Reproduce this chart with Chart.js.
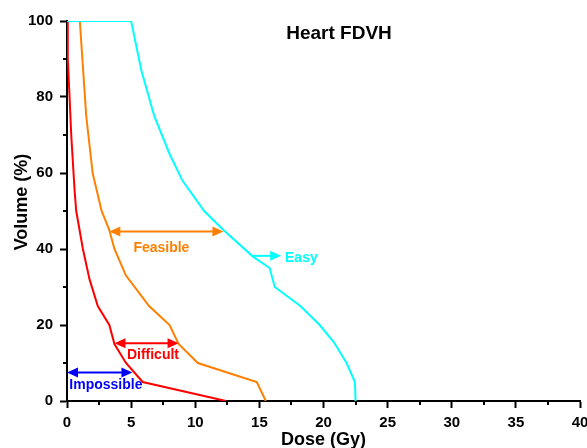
<!DOCTYPE html>
<html>
<head>
<meta charset="utf-8">
<script src="https://cdn.jsdelivr.net/npm/chart.js@4.4.1/dist/chart.umd.min.js"></script>
<style>
html,body{margin:0;padding:0;background:#fff;}
#wrap{width:587px;height:448px;position:relative;}
</style>
</head>
<body>
<div id="wrap"><canvas id="c" width="587" height="448"></canvas></div>
<script>
// ---- data ----
const easyDose = [0, 5.0, 5.8, 6.8, 8.0, 9.0, 10.7, 12.2, 14.5, 15.8, 16.2, 18.2, 19.7, 20.8, 21.8, 22.45, 22.5];
const easyVol  = [100, 100, 87, 75, 65, 58, 50, 45, 38, 35, 30, 25, 20, 15.5, 10, 5, 0];
const feasibleDose = [1.0, 1.5, 2.0, 2.7, 3.3, 3.7, 4.6, 6.4, 8.0, 8.7, 10.2, 14.8, 15.5];
const feasibleVol  = [100, 75, 60, 50, 45, 40, 33, 25, 20, 15, 10, 5, 0];
const difficultDose = [0, 0.06, 0.2, 0.33, 0.6, 0.72, 1.24, 1.76, 2.4, 3.3, 3.7, 4.6, 5.9, 12.4];
const difficultVol  = [100, 90, 80, 70, 55, 50, 40, 32, 25, 20, 15, 10, 5, 0];

const arrowNames = ['Feasible', 'Easy', 'Difficult', 'Impossible'];
const arrowVol   = [44.6, 38.2, 15.2, 7.5];
const arrowFrom  = [3.3, 14.5, 3.7, 0];
const arrowTo    = [12.2, 16.7, 8.7, 5.1];
const arrowBoth  = [true, false, true, true];
const labelDose  = [7.36, 17.0, 6.7, 3.03];
const labelVol   = [40.2, 37.5, 12.1, 4.2];

const xTicks = [0, 5, 10, 15, 20, 25, 30, 35, 40];
const yTicks = [0, 20, 40, 60, 80, 100];
const titleText = 'Heart FDVH';
const xTitle = 'Dose (Gy)';
const yTitle = 'Volume (%)';

// ---- styles ----
const COLORS = {Easy: '#00FFFF', Feasible: '#FF8000', Difficult: '#FF0000', Impossible: '#0000FF'};
const FONT = '"Liberation Sans", Arial, sans-serif';

function pts(xs, ys) { return xs.map((x, i) => ({x: x, y: ys[i]})); }

const annotationPlugin = {
  id: 'annot',
  afterDatasetsDraw(chart) {
    const ctx = chart.ctx, xs = chart.scales.x, ys = chart.scales.y;
    ctx.save();
    arrowNames.forEach((name, i) => {
      const col = COLORS[name];
      const y = ys.getPixelForValue(arrowVol[i]);
      const x1 = xs.getPixelForValue(arrowFrom[i]);
      const x2 = xs.getPixelForValue(arrowTo[i]);
      const hl = 11, hw = 5;
      ctx.strokeStyle = col; ctx.fillStyle = col; ctx.lineWidth = 2;
      ctx.beginPath();
      ctx.moveTo(arrowBoth[i] ? x1 + hl - 2 : x1, y);
      ctx.lineTo(x2 - hl + 2, y);
      ctx.stroke();
      ctx.beginPath();
      ctx.moveTo(x2, y); ctx.lineTo(x2 - hl, y - hw); ctx.lineTo(x2 - hl, y + hw); ctx.closePath(); ctx.fill();
      if (arrowBoth[i]) {
        ctx.beginPath();
        ctx.moveTo(x1, y); ctx.lineTo(x1 + hl, y - hw); ctx.lineTo(x1 + hl, y + hw); ctx.closePath(); ctx.fill();
      }
      ctx.font = 'bold 14px ' + FONT;
      ctx.textBaseline = 'middle';
      ctx.textAlign = name === 'Easy' ? 'left' : 'center';
      ctx.fillText(name, xs.getPixelForValue(labelDose[i]), ys.getPixelForValue(labelVol[i]));
    });
    ctx.fillStyle = '#000';
    ctx.font = 'bold 19px ' + FONT;
    ctx.textAlign = 'center';
    ctx.textBaseline = 'middle';
    ctx.fillText(titleText, 339, 34);
    // y axis title
    ctx.save();
    ctx.translate(22, 202);
    ctx.rotate(-Math.PI / 2);
    ctx.font = 'bold 18px ' + FONT;
    ctx.fillText(yTitle, 0, 0);
    ctx.restore();
    ctx.restore();
  },
  afterDraw(chart) {
    const ctx = chart.ctx, xs = chart.scales.x, ys = chart.scales.y;
    ctx.save();
    ctx.strokeStyle = '#000'; ctx.lineWidth = 2;
    for (let i = 0; i < xTicks.length - 1; i++) {
      const v = (xTicks[i] + xTicks[i + 1]) / 2;
      const px = Math.round(xs.getPixelForValue(v));
      ctx.beginPath(); ctx.moveTo(px, ys.bottom); ctx.lineTo(px, ys.bottom + 4); ctx.stroke();
    }
    for (let i = 0; i < yTicks.length - 1; i++) {
      const v = (yTicks[i] + yTicks[i + 1]) / 2;
      const py = Math.round(ys.getPixelForValue(v));
      ctx.beginPath(); ctx.moveTo(xs.left, py); ctx.lineTo(xs.left - 4, py); ctx.stroke();
    }
    ctx.restore();
  }
};

new Chart(document.getElementById('c'), {
  type: 'scatter',
  data: {
    datasets: [
      {label: 'Easy', data: pts(easyDose, easyVol), borderColor: COLORS.Easy},
      {label: 'Feasible', data: pts(feasibleDose, feasibleVol), borderColor: COLORS.Feasible},
      {label: 'Difficult', data: pts(difficultDose, difficultVol), borderColor: COLORS.Difficult}
    ].map(d => Object.assign(d, {showLine: true, borderWidth: 2, pointRadius: 0, tension: 0, fill: false}))
  },
  options: {
    responsive: false,
    animation: false,
    devicePixelRatio: 1,
    layout: {padding: {top: 21, right: 7, left: 0, bottom: 0}},
    plugins: {legend: {display: false}, tooltip: {enabled: false}, title: {display: false}},
    scales: {
      x: {
        type: 'linear', min: 0, max: 40,
        afterBuildTicks(s) { s.ticks = xTicks.map(v => ({value: v})); },
        afterFit(s) { s.height = 47; s.paddingLeft = 0; s.paddingRight = 0; },
        grid: {drawOnChartArea: false, drawTicks: true, tickLength: 7, tickColor: '#000', tickWidth: 2},
        border: {display: true, color: '#000', width: 2},
        ticks: {color: '#000', font: {family: FONT, size: 15, weight: 'bold'}, padding: 6, maxRotation: 0},
        title: {display: true, text: xTitle, color: '#000', font: {family: FONT, size: 18, weight: 'bold', lineHeight: 0.9}, padding: {top: 0, bottom: 0}}
      },
      y: {
        type: 'linear', min: 0, max: 100,
        afterBuildTicks(s) { s.ticks = yTicks.map(v => ({value: v})); },
        afterFit(s) { s.width = 67; s.paddingTop = 0; s.paddingBottom = 0; },
        grid: {drawOnChartArea: false, drawTicks: true, tickLength: 7, tickColor: '#000', tickWidth: 2},
        border: {display: true, color: '#000', width: 2},
        ticks: {color: '#000', font: {family: FONT, size: 15, weight: 'bold'}, padding: 7},
        title: {display: false}
      }
    }
  },
  plugins: [annotationPlugin]
});
</script>
</body>
</html>
